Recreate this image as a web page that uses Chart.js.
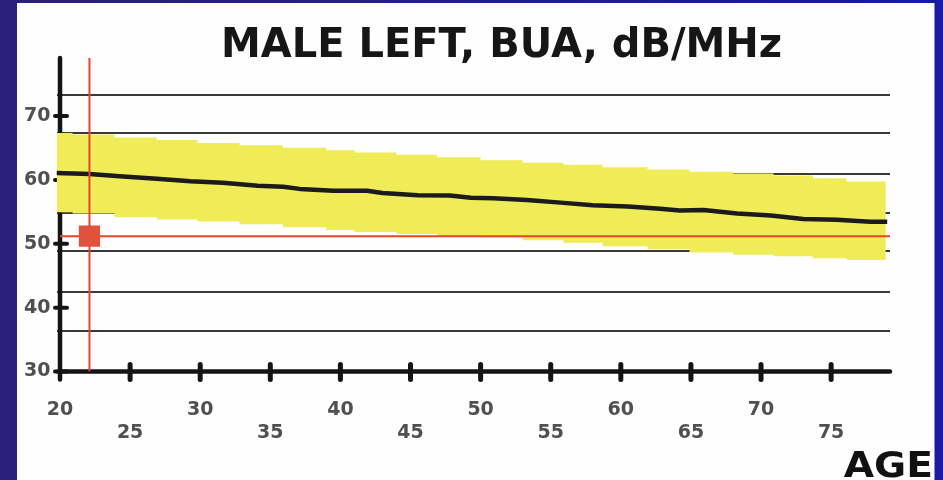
<!DOCTYPE html>
<html lang="en">
<head>
    <meta charset="UTF-8">
    <title>Male Left BUA</title>
    <script src="https://cdn.jsdelivr.net/npm/chart.js"></script>
    <style>
        body { margin: 0; background: #1c1c9a; }
        #buaChart { display: block; }
    </style>
</head>
<body>
    <canvas id="buaChart" width="943" height="480"></canvas>
<script>
    // Axis ticks
    const ageTicks = [20, 25, 30, 35, 40, 45, 50, 55, 60, 65, 70, 75];
    const ageTickLabels = ['20', '25', '30', '35', '40', '45', '50', '55', '60', '65', '70', '75'];
    const buaTicks = [30, 40, 50, 60, 70];
    const buaTickLabels = ['30', '40', '50', '60', '70'];

    // Horizontal reference lines behind the band
    const refLineValues = [73.3, 67.3, 60.9, 54.85, 48.9, 42.45, 36.4];

    // Normal range band (stepped)
    const bandAges = [19.75, 20.9, 23.9, 26.9, 29.8, 32.8, 35.9, 39.0, 41.0, 44.0, 46.9, 50.0, 53.0, 55.9, 58.7, 61.9, 64.9, 68.0, 70.9, 73.7, 76.1, 78.9];
    const bandUpper = [67.35, 67.1, 66.65, 66.25, 65.8, 65.45, 65.05, 64.65, 64.3, 63.95, 63.55, 63.1, 62.7, 62.4, 62.0, 61.65, 61.3, 61.0, 60.7, 60.25, 59.75, 59.75];
    const bandLower = [54.95, 54.75, 54.15, 53.8, 53.5, 53.05, 52.6, 52.15, 51.85, 51.55, 51.2, 50.95, 50.55, 50.15, 49.6, 49.15, 48.65, 48.3, 48.05, 47.75, 47.45, 47.45];

    // Mean curve
    const meanAges = [19.75, 22.1, 24.5, 26.9, 29.3, 31.6, 34.1, 35.9, 37.1, 39.5, 41.9, 43.0, 45.5, 47.8, 49.3, 50.9, 53.3, 55.7, 58.0, 60.5, 62.8, 64.2, 65.9, 68.3, 70.7, 73.0, 75.4, 77.8, 79.0];
    const meanBua = [61.1, 60.95, 60.55, 60.2, 59.8, 59.55, 59.1, 58.95, 58.6, 58.3, 58.3, 57.95, 57.6, 57.55, 57.2, 57.15, 56.85, 56.45, 56.05, 55.85, 55.5, 55.2, 55.3, 54.75, 54.45, 53.9, 53.75, 53.45, 53.45];

    // Patient measurement
    const patientAge = 22.1;
    const patientBua = 51.2;

    const xMin = 19.75, xMax = 79.2;
    const yMin = 30, yMax = 79.1;

    const toPoints = (xs, ys) => xs.map((v, i) => ({ x: v, y: ys[i] }));

    // blue slide frame + white panel
    const backdrop = {
        id: 'backdrop',
        beforeDraw(chart) {
            const ctx = chart.ctx;
            const g = ctx.createLinearGradient(0, 0, chart.width, 0);
            g.addColorStop(0, '#2b1f7c');
            g.addColorStop(1, '#1a1aa6');
            ctx.save();
            ctx.fillStyle = g;
            ctx.fillRect(0, 0, chart.width, chart.height);
            ctx.fillStyle = '#fefefe';
            ctx.fillRect(17, 3, 917.5, 477);
            ctx.restore();
        }
    };

    // thick axes with tick marks crossing them
    const axisLines = {
        id: 'axisLines',
        beforeDatasetsDraw(chart) {
            const { ctx, scales: { x, y } } = chart;
            const x0 = x.getPixelForValue(20);
            const y0 = y.getPixelForValue(30);
            ctx.save();
            ctx.strokeStyle = '#141414';
            ctx.lineCap = 'round';
            ctx.lineWidth = 4.5;
            ctx.beginPath();
            ctx.moveTo(x0, y.getPixelForValue(yMax));
            ctx.lineTo(x0, y0 + 8);
            ctx.moveTo(x0 - 2, y0);
            ctx.lineTo(x.right, y0);
            ctx.stroke();

            ctx.lineWidth = 4;
            ctx.beginPath();
            buaTicks.forEach(v => {
                const py = y.getPixelForValue(v);
                ctx.moveTo(x0 - 5, py);
                ctx.lineTo(x0 + 7, py);
            });
            ctx.stroke();

            ctx.lineWidth = 5;
            ctx.beginPath();
            ageTicks.slice(1).forEach(v => {
                const px = x.getPixelForValue(v);
                ctx.moveTo(px, y0 - 7);
                ctx.lineTo(px, y0 + 8);
            });
            ctx.stroke();
            ctx.restore();
        }
    };

    // heading and axis name
    const captions = {
        id: 'captions',
        afterDraw(chart) {
            const ctx = chart.ctx;
            ctx.save();
            ctx.fillStyle = '#161616';
            ctx.textBaseline = 'alphabetic';
            ctx.font = 'bold 40px "DejaVu Sans"';
            ctx.textAlign = 'center';
            ctx.fillText('MALE LEFT, BUA, dB/MHz', 501.5, 57);
            ctx.translate(933, 477);
            ctx.scale(1.12, 1);
            ctx.font = 'bold 35px "DejaVu Sans"';
            ctx.textAlign = 'right';
            ctx.fillStyle = '#111';
            ctx.fillText('AGE', 0, 0);
            ctx.restore();
        }
    };

    const tickFont = { family: 'DejaVu Sans', size: 19, weight: 'bold', lineHeight: 1.18 };

    new Chart(document.getElementById('buaChart'), {
        type: 'line',
        data: {
            datasets: [
                {
                    label: 'Upper limit',
                    data: toPoints(bandAges, bandUpper),
                    stepped: true,
                    borderWidth: 0,
                    pointRadius: 0,
                    fill: false,
                    order: 6
                },
                {
                    label: 'Lower limit',
                    data: toPoints(bandAges, bandLower),
                    stepped: true,
                    borderWidth: 0,
                    pointRadius: 0,
                    fill: '-1',
                    backgroundColor: '#f0ec58',
                    order: 5
                },
                {
                    label: 'Mean',
                    data: toPoints(meanAges, meanBua),
                    borderColor: '#1b1b1b',
                    borderWidth: 4.5,
                    borderJoinStyle: 'round',
                    pointRadius: 0,
                    tension: 0,
                    fill: false,
                    order: 4
                },
                {
                    label: 'Age line',
                    data: [{ x: patientAge, y: yMin }, { x: patientAge, y: yMax }],
                    borderColor: '#e8442c',
                    borderWidth: 2,
                    pointRadius: 0,
                    fill: false,
                    order: 3
                },
                {
                    label: 'BUA line',
                    data: [{ x: 20, y: patientBua }, { x: xMax, y: patientBua }],
                    borderColor: '#e8442c',
                    borderWidth: 2,
                    pointRadius: 0,
                    fill: false,
                    order: 2
                },
                {
                    label: 'Patient',
                    data: [{ x: patientAge, y: patientBua }],
                    showLine: false,
                    pointStyle: 'rect',
                    pointRadius: 15,
                    borderWidth: 0,
                    backgroundColor: '#e2513d',
                    order: 1
                }
            ]
        },
        options: {
            responsive: false,
            devicePixelRatio: 1,
            animation: false,
            events: [],
            layout: { padding: { top: 58, right: 53, left: 0, bottom: 0 } },
            plugins: {
                legend: { display: false },
                tooltip: { enabled: false }
            },
            scales: {
                x: {
                    type: 'linear',
                    min: xMin,
                    max: xMax,
                    afterBuildTicks: s => { s.ticks = ageTicks.map(v => ({ value: v })); },
                    afterFit: s => { s.height = 108.5; },
                    grid: { display: false, drawTicks: false },
                    border: { display: false },
                    ticks: {
                        autoSkip: false,
                        maxRotation: 0,
                        minRotation: 0,
                        padding: 27.8,
                        color: '#505050',
                        font: tickFont,
                        callback: (v, i) => i % 2 ? ['', ageTickLabels[i]] : ageTickLabels[i]
                    }
                },
                y: {
                    type: 'linear',
                    position: 'left',
                    min: yMin,
                    max: yMax,
                    afterBuildTicks: s => { s.ticks = buaTicks.map(v => ({ value: v })); },
                    afterFit: s => { s.width = 56.5; },
                    grid: { display: false, drawTicks: false },
                    border: { display: false },
                    ticks: {
                        padding: 6,
                        color: '#505050',
                        font: tickFont,
                        callback: (v, i) => buaTickLabels[i]
                    }
                },
                refLines: {
                    type: 'linear',
                    position: 'left',
                    min: yMin,
                    max: yMax,
                    afterBuildTicks: s => { s.ticks = refLineValues.map(v => ({ value: v })); },
                    afterFit: s => { s.width = 0; },
                    ticks: { display: false },
                    border: { display: false },
                    grid: { color: '#3a3a3a', lineWidth: 2, drawTicks: false }
                }
            }
        },
        plugins: [backdrop, axisLines, captions]
    });
</script>
</body>
</html>
